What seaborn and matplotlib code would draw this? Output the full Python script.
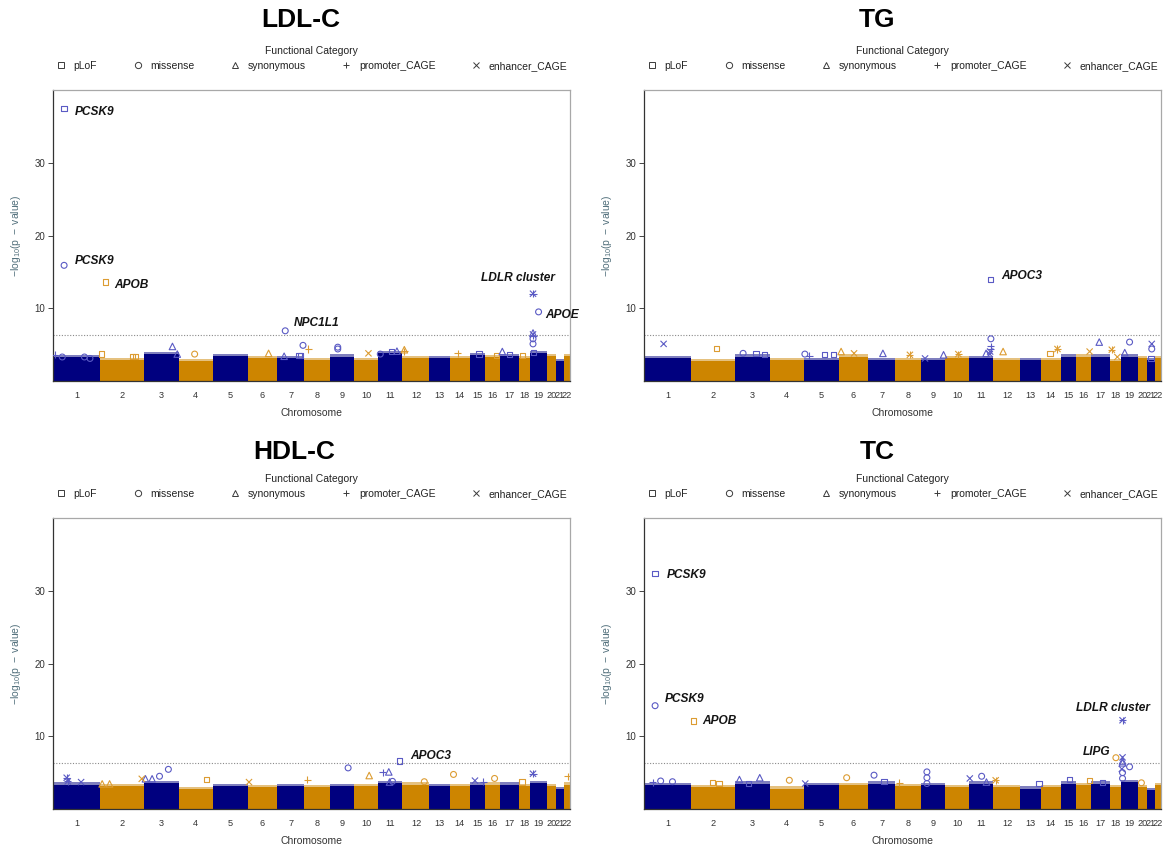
import numpy as np
import pandas as pd
import matplotlib
matplotlib.use("Agg")
import matplotlib.pyplot as plt
from matplotlib.markers import MarkerStyle
from matplotlib.lines import Line2D
import seaborn as sns

# ---------------------------------------------------------------- data
chromosomes = [str(i) for i in range(1, 23)]
# span of each chromosome along the genome-wide index axis
chrom_span = [128, 118, 94, 92, 95, 78, 75, 68, 67, 65, 65, 73,
              55, 54, 40, 43, 50, 30, 45, 25, 22, 16]

categories = ["pLoF", "missense", "synonymous", "promoter_CAGE", "enhancer_CAGE"]
sig_threshold = 6.3

# upper edge of the dense cloud of non-significant tests, per chromosome
band_ldl = [3.3, 2.9, 3.7, 2.7, 3.45, 3.1, 3.1, 2.9, 3.35, 2.9, 3.8, 3.1,
            3.1, 3.1, 3.6, 3.3, 3.45, 3.1, 3.8, 3.45, 2.7, 3.45]
band_tg = [3.1, 2.7, 3.35, 2.9, 2.9, 3.35, 2.9, 2.9, 2.9, 3.1, 3.1, 2.9,
           2.9, 2.9, 3.35, 3.35, 3.35, 2.7, 3.35, 3.1, 2.9, 3.1]
band_hdl = [3.35, 3.1, 3.6, 2.7, 3.1, 3.0, 3.1, 3.0, 3.1, 3.1, 3.6, 3.35,
            3.1, 3.1, 3.35, 3.35, 3.35, 3.1, 3.6, 3.1, 2.7, 3.35]
band_tc = [3.3, 3.0, 3.5, 2.8, 3.3, 3.3, 3.5, 3.1, 3.3, 3.0, 3.5, 3.0,
           2.8, 3.0, 3.5, 3.3, 3.5, 3.0, 3.7, 3.0, 2.6, 3.3]

# highlighted tests: (chromosome, offset within chromosome, -log10 p, category)
hits_ldl = [
    (1, 30, 37.5, "pLoF"), (1, 30, 15.9, "missense"), (2, 14, 13.6, "pLoF"),
    (7, 23, 6.9, "missense"),
    (19, 8, 12.0, "promoter_CAGE"), (19, 8, 12.0, "enhancer_CAGE"),
    (19, 23, 9.5, "missense"),
    (19, 8, 6.6, "synonymous"), (19, 8, 6.4, "enhancer_CAGE"), (19, 8, 6.2, "promoter_CAGE"),
    (19, 8, 5.8, "missense"), (19, 8, 5.1, "missense"), (19, 10, 3.9, "pLoF"),
    (3, 77, 4.75, "synonymous"), (3, 90, 3.7, "synonymous"), (4, 43, 3.7, "missense"),
    (7, 71, 4.9, "missense"), (8, 10, 4.4, "promoter_CAGE"),
    (9, 22, 4.65, "missense"), (9, 22, 4.4, "missense"),
    (7, 20, 3.4, "synonymous"), (7, 60, 3.5, "pLoF"), (7, 65, 3.5, "pLoF"),
    (6, 56, 3.8, "synonymous"), (11, 35, 4.1, "pLoF"), (11, 50, 4.1, "synonymous"),
    (12, 5, 4.3, "synonymous"), (12, 5, 4.1, "promoter_CAGE"), (10, 38, 3.8, "enhancer_CAGE"),
    (11, 5, 3.7, "missense"), (15, 25, 3.7, "pLoF"), (17, 5, 4.05, "synonymous"),
    (17, 25, 3.6, "pLoF"), (14, 22, 3.8, "promoter_CAGE"),
    (2, 4, 3.7, "pLoF"), (2, 87, 3.4, "pLoF"), (2, 94, 3.4, "pLoF"),
    (1, 5, 3.6, "promoter_CAGE"), (1, 25, 3.3, "missense"), (1, 85, 3.3, "missense"),
    (1, 100, 3.1, "missense"), (16, 33, 3.5, "pLoF"), (18, 10, 3.5, "pLoF"),
]
hits_tg = [
    (11, 58, 14.0, "pLoF"), (11, 58, 5.8, "missense"), (11, 58, 4.75, "promoter_CAGE"),
    (11, 58, 4.4, "promoter_CAGE"), (11, 56, 4.05, "enhancer_CAGE"), (11, 55, 3.7, "enhancer_CAGE"),
    (1, 53, 5.1, "enhancer_CAGE"), (2, 69, 4.5, "pLoF"),
    (3, 57, 3.8, "pLoF"), (3, 79, 3.6, "pLoF"), (3, 22, 3.8, "missense"),
    (5, 3, 3.7, "missense"), (5, 15, 3.5, "promoter_CAGE"), (5, 55, 3.6, "pLoF"), (5, 80, 3.6, "pLoF"),
    (6, 6, 4.05, "synonymous"), (6, 41, 3.8, "enhancer_CAGE"), (7, 41, 3.8, "synonymous"),
    (8, 39, 3.6, "promoter_CAGE"), (8, 39, 3.6, "enhancer_CAGE"), (9, 12, 3.1, "enhancer_CAGE"),
    (9, 62, 3.6, "synonymous"), (10, 35, 3.7, "promoter_CAGE"), (10, 35, 3.7, "enhancer_CAGE"),
    (11, 45, 3.8, "synonymous"), (12, 26, 4.05, "synonymous"),
    (14, 25, 3.8, "pLoF"), (14, 45, 4.4, "promoter_CAGE"), (14, 45, 4.4, "enhancer_CAGE"),
    (17, 21, 5.35, "synonymous"), (16, 38, 4.05, "enhancer_CAGE"),
    (18, 5, 4.3, "promoter_CAGE"), (18, 5, 4.3, "enhancer_CAGE"), (18, 20, 3.3, "enhancer_CAGE"),
    (19, 23, 5.35, "missense"), (19, 10, 3.9, "synonymous"),
    (21, 13, 5.1, "enhancer_CAGE"), (21, 13, 4.4, "missense"), (21, 11, 3.1, "pLoF"),
]
hits_hdl = [
    (11, 56, 6.6, "pLoF"),
    (1, 37, 4.3, "promoter_CAGE"), (1, 37, 4.3, "enhancer_CAGE"),
    (1, 40, 3.8, "promoter_CAGE"), (1, 40, 3.8, "enhancer_CAGE"), (1, 76, 3.7, "enhancer_CAGE"),
    (3, 4, 4.15, "synonymous"), (3, 22, 4.15, "synonymous"), (3, 42, 4.5, "missense"),
    (3, 66, 5.45, "missense"), (2, 112, 4.15, "enhancer_CAGE"), (4, 74, 4.05, "pLoF"),
    (9, 50, 5.65, "missense"), (10, 40, 4.6, "synonymous"),
    (11, 11, 5.05, "promoter_CAGE"), (11, 28, 5.1, "synonymous"),
    (11, 30, 3.7, "synonymous"), (11, 38, 3.8, "missense"),
    (14, 10, 4.75, "missense"), (8, 7, 4.05, "promoter_CAGE"), (6, 3, 3.7, "enhancer_CAGE"),
    (15, 14, 3.9, "enhancer_CAGE"), (15, 36, 3.75, "promoter_CAGE"),
    (19, 8, 4.85, "promoter_CAGE"), (19, 8, 4.85, "enhancer_CAGE"),
    (22, 10, 4.5, "promoter_CAGE"), (12, 59, 3.75, "missense"), (16, 27, 4.2, "missense"),
    (18, 8, 3.7, "pLoF"), (2, 5, 3.45, "synonymous"), (2, 25, 3.45, "synonymous"),
]
hits_tc = [
    (1, 30, 32.4, "pLoF"), (1, 30, 14.2, "missense"), (2, 6, 12.1, "pLoF"),
    (19, 4, 12.2, "promoter_CAGE"), (19, 4, 12.2, "enhancer_CAGE"),
    (18, 16, 7.05, "missense"),
    (19, 4, 7.1, "enhancer_CAGE"), (19, 4, 6.6, "synonymous"), (19, 4, 6.35, "synonymous"),
    (19, 23, 5.8, "missense"), (19, 2, 5.5, "enhancer_CAGE"), (19, 4, 5.0, "missense"),
    (19, 4, 4.2, "missense"),
    (9, 17, 5.1, "missense"), (9, 17, 4.3, "missense"), (9, 17, 3.5, "missense"),
    (7, 17, 4.65, "missense"), (6, 21, 4.3, "missense"), (4, 53, 3.95, "missense"),
    (3, 67, 4.3, "synonymous"), (3, 12, 4.05, "synonymous"), (3, 37, 3.5, "pLoF"),
    (1, 23, 3.7, "promoter_CAGE"), (1, 45, 3.85, "missense"), (1, 77, 3.75, "missense"),
    (5, 4, 3.5, "enhancer_CAGE"), (11, 1, 4.2, "enhancer_CAGE"), (11, 33, 4.5, "missense"),
    (11, 46, 3.7, "synonymous"), (12, 6, 3.95, "promoter_CAGE"), (12, 6, 3.95, "enhancer_CAGE"),
    (15, 23, 4.1, "pLoF"), (16, 37, 3.95, "pLoF"), (17, 30, 3.6, "pLoF"),
    (2, 57, 3.6, "pLoF"), (2, 75, 3.5, "pLoF"), (13, 50, 3.5, "pLoF"),
    (7, 44, 3.8, "pLoF"), (8, 10, 3.6, "promoter_CAGE"), (20, 10, 3.6, "missense"),
]

# gene labels: (gene, chromosome, offset, -log10 p, text offset x / up in px, alignment)
genes_ldl = [("PCSK9", 1, 30, 37.5, 11, -4, "left"), ("PCSK9", 1, 30, 15.9, 11, 4, "left"),
             ("APOB", 2, 14, 13.6, 9, -3, "left"), ("NPC1L1", 7, 23, 6.9, 9, 8, "left"),
             ("LDLR cluster", 19, 8, 12.0, -15, 16, "center"), ("APOE", 19, 23, 9.5, 7, -3, "left")]
genes_tg = [("APOC3", 11, 58, 14.0, 10, 3, "left")]
genes_hdl = [("APOC3", 11, 56, 6.6, 11, 5, "left")]
genes_tc = [("PCSK9", 1, 30, 32.4, 12, -2, "left"), ("PCSK9", 1, 30, 14.2, 10, 7, "left"),
            ("APOB", 2, 6, 12.1, 9, 0, "left"), ("LDLR cluster", 19, 4, 12.2, -10, 12, "center"),
            ("LIPG", 18, 16, 7.05, -5, 6, "right")]

# ---------------------------------------------------------------- style
sns.set_theme(style="white")
plt.rcParams["font.family"] = ["Liberation Sans", "DejaVu Sans"]
plt.rcParams["mathtext.fontset"] = "custom"
plt.rcParams["mathtext.rm"] = "Liberation Sans"
plt.rcParams["mathtext.it"] = "Liberation Sans:italic"

NAVY, GOLD = "#00007f", "#cd8500"
NAVY_PT, GOLD_PT = "#5a5ac4", "#dc9c32"
marker_shape = {"pLoF": "s", "missense": "o", "synonymous": "^",
                "promoter_CAGE": "+", "enhancer_CAGE": "x"}
marker_size = {"pLoF": 14, "missense": 18, "synonymous": 22,
               "promoter_CAGE": 26, "enhancer_CAGE": 20}

starts = np.concatenate([[0], np.cumsum(chrom_span)[:-1]])
centers = starts + np.array(chrom_span) / 2
total = float(np.sum(chrom_span))
PX = 0.72  # points per pixel at 100 dpi


def draw_panel(ax, band, hits, genes):
    band_colors = [NAVY if i % 2 == 0 else GOLD for i in range(len(chromosomes))]
    ax.bar(starts, band, width=chrom_span, align="edge", color=band_colors,
           linewidth=0, zorder=1)
    # soft, speckled upper edge of the dense cloud
    ax.bar(starts, [0.3] * len(band), bottom=band, width=chrom_span, align="edge",
           color=band_colors, alpha=0.5, linewidth=0, zorder=1)

    df = pd.DataFrame(hits, columns=["chrom", "offset", "logp", "category"])
    df["pos"] = starts[df["chrom"].to_numpy() - 1] + df["offset"]
    df["odd"] = df["chrom"] % 2 == 1
    for cat in categories:
        mk = MarkerStyle(marker_shape[cat], fillstyle="none")
        for odd, col in [(True, NAVY_PT), (False, GOLD_PT)]:
            sub = df[(df["category"] == cat) & (df["odd"] == odd)]
            if sub.empty:
                continue
            sns.scatterplot(data=sub, x="pos", y="logp", ax=ax, marker=mk, color=col,
                            s=marker_size[cat], linewidth=0.8, edgecolor=None,
                            legend=False, zorder=3)

    ax.axhline(sig_threshold, color="#8a8a8a", linestyle=(0, (1, 1.5)), linewidth=0.8, zorder=2)

    for gene, chrom, off, lp, dx, dy, ha in genes:
        ax.annotate(gene, xy=(starts[chrom - 1] + off, lp), xytext=(dx * PX, dy * PX),
                    textcoords="offset points", ha=ha, va="center", fontsize=8.6,
                    fontweight="bold", fontstyle="italic", color="#141414",
                    annotation_clip=False, zorder=4)

    ax.set_xlim(0, total)
    ax.set_ylim(0, 40)
    ax.set_xticks(centers)
    ax.set_xticklabels(chromosomes, fontsize=6.6, color="#333333")
    ax.set_yticks([10, 20, 30])
    ax.set_yticklabels(["10", "20", "30"], fontsize=7, color="#333333")
    ax.tick_params(axis="x", length=0, pad=7)
    ax.tick_params(axis="y", length=3.5, width=0.7, color="#444444", pad=2, left=True)
    ax.set_xlabel("Chromosome", fontsize=7.5, color="#333333")
    ax.xaxis.set_label_coords(0.5, -0.092)
    ax.set_ylabel(r"$\mathrm{-log_{10}(p\ -\ value)}$", fontsize=7.5, color="#52707c")
    ax.yaxis.set_label_coords(-0.058, 0.5)
    for side in ("left", "bottom"):
        ax.spines[side].set_color("#333333")
        ax.spines[side].set_linewidth(0.9)
    for side in ("top", "right"):
        ax.spines[side].set_color("#a8a8a8")
        ax.spines[side].set_linewidth(0.9)

    handles = [Line2D([], [], linestyle="none",
                      marker=MarkerStyle(marker_shape[c], fillstyle="none"),
                      markeredgecolor="#3a3a3a", markersize=4.5, markeredgewidth=0.7)
               for c in categories]
    leg = ax.legend(handles, categories, title="Functional Category", ncol=5,
                    loc="lower center", bbox_to_anchor=(0.5, 1.066), frameon=False,
                    fontsize=7.5, title_fontsize=7.5, columnspacing=3.4,
                    handletextpad=0.7, handlelength=1.0, borderaxespad=0, borderpad=0)
    for t in leg.get_texts():
        t.set_color("#222222")
    leg.get_title().set_color("#222222")


fig = plt.figure(figsize=(11.7, 8.5), dpi=100)
W, H = 1170.0, 850.0
panels = [
    ("LDL-C", band_ldl, hits_ldl, genes_ldl, 53, 90, 301, 20),
    ("TG", band_tg, hits_tg, genes_tg, 644, 90, 877, 20),
    ("HDL-C", band_hdl, hits_hdl, genes_hdl, 53, 518, 294, 452),
    ("TC", band_tc, hits_tc, genes_tc, 644, 518, 877, 452),
]
for title, band, hits, genes, left_px, top_px, tx, ty in panels:
    ax = fig.add_axes([left_px / W, 1 - (top_px + 291) / H, 517 / W, 291 / H])
    draw_panel(ax, band, hits, genes)
    fig.text(tx / W, 1 - ty / H, title, ha="center", va="center",
             fontsize=19, fontweight="bold", color="#000000")

fig.savefig("out.png", dpi=100)
